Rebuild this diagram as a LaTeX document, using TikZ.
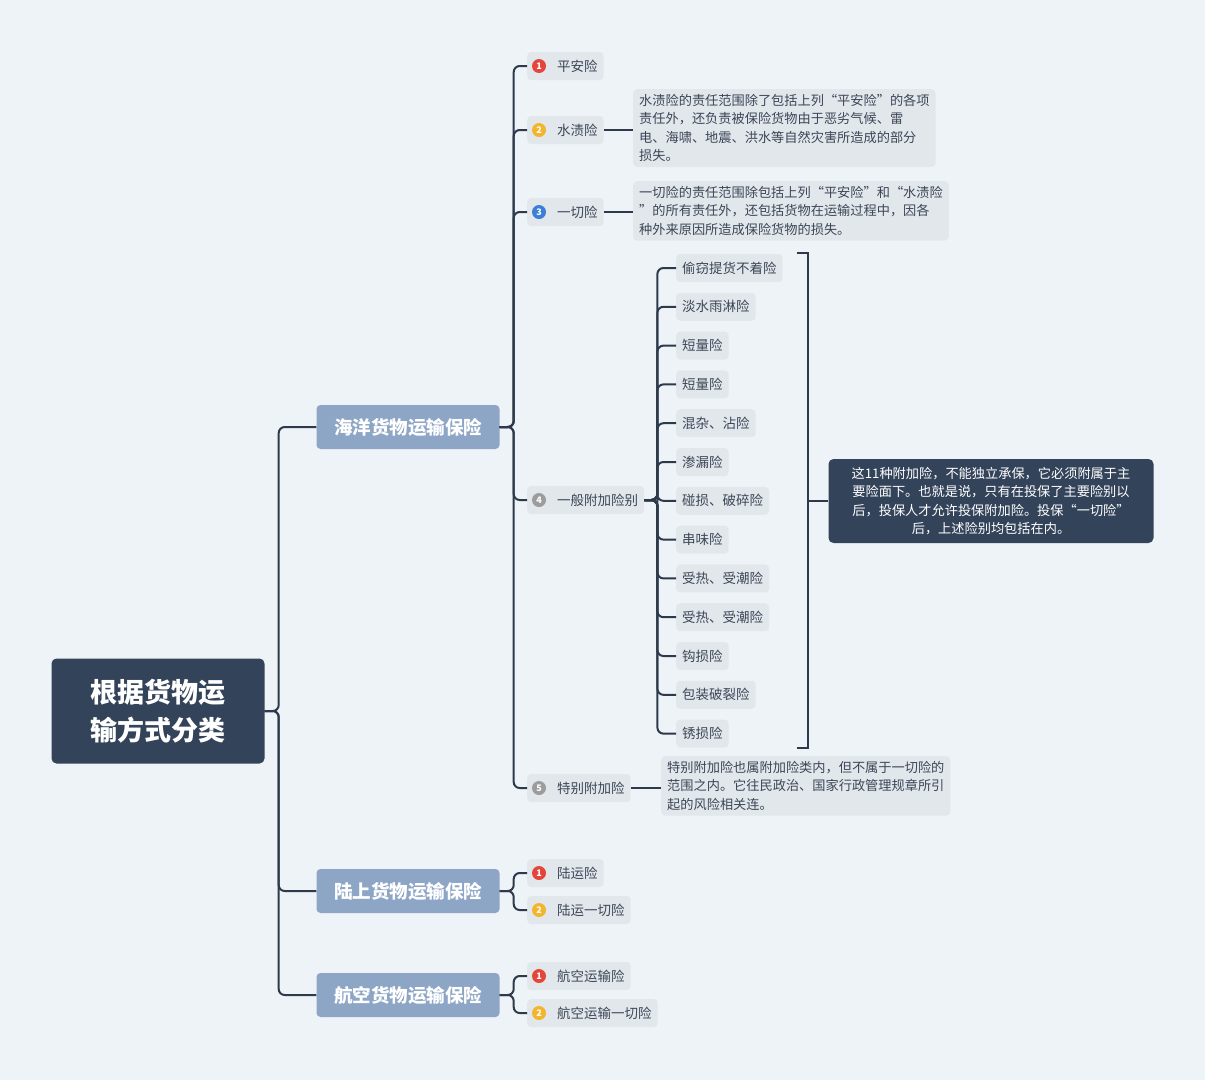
\documentclass[tikz,border=0pt]{standalone}
\usepackage{fontspec}
\setmainfont{Noto Sans CJK SC}
\begin{document}
\begin{tikzpicture}[x=1pt,y=-1pt,
  conn/.style={draw=linec,line width=2pt,rounded corners=6pt},
  leaf/.style={fill=leafc,rounded corners=4pt,anchor=west,font=\fontsize{13.5}{16}\selectfont,text=textc,inner xsep=6pt,minimum height=28pt},
  desc/.style={fill=leafc,rounded corners=4pt,anchor=north west,font=\fontsize{13.2}{18.5}\selectfont,text=textc,align=left,inner xsep=6pt,inner ysep=5pt},
  lvl/.style={fill=lvlc,rounded corners=4pt,text=white,font=\fontsize{18.5}{22}\selectfont\bfseries,minimum width=183pt,minimum height=44pt},
  badge/.style={circle,inner sep=0pt,minimum size=14pt,text=white,font=\fontsize{9}{9}\selectfont\bfseries}]
\definecolor{bg}{HTML}{EDF3F7}
\definecolor{linec}{HTML}{2E3A4B}
\definecolor{leafc}{HTML}{E2E7EC}
\definecolor{textc}{HTML}{3C4656}
\definecolor{lvlc}{HTML}{8DA6C6}
\definecolor{rootc}{HTML}{33435A}
\definecolor{bred}{HTML}{E5463B}
\definecolor{byel}{HTML}{F3B52C}
\definecolor{bblu}{HTML}{3C7FD6}
\definecolor{bgry}{HTML}{9C9C9C}
\fill[bg] (0,0) rectangle (1205,1080);
\useasboundingbox (0,0) rectangle (1205,1080);
% root
\node[fill=rootc,rounded corners=5pt,text=white,align=left,font=\fontsize{27}{38}\selectfont\bfseries,minimum width=213pt,minimum height=105pt] (root) at (158,711) {根据货物运\\输方式分类};
\node[lvl] (sea) at (408,427) {海洋货物运输保险};
\node[lvl] (land) at (408,891) {陆上货物运输保险};
\node[lvl] (air) at (408,995) {航空货物运输保险};
\draw[conn] (root.east) -- ([xshift=14pt]root.east) |- (sea.west);
\draw[conn] (root.east) -- ([xshift=14pt]root.east) |- (land.west);
\draw[conn] (root.east) -- ([xshift=14pt]root.east) |- (air.west);
% sea children
\node[leaf] (s1) at (527,66) {\hspace{24pt}平安险};
\node[leaf] (s2) at (527,130) {\hspace{24pt}水渍险};
\node[leaf] (s3) at (527,212) {\hspace{24pt}一切险};
\node[leaf] (s4) at (527,500) {\hspace{24pt}一般附加险别};
\node[leaf] (s5) at (527,788) {\hspace{24pt}特别附加险};
\foreach \n in {s1,s2,s3,s4,s5}{\draw[conn] (sea.east) -- ([xshift=14pt]sea.east) |- (\n.west);}
\node[badge,fill=bred] at (539,66) {1};
\node[badge,fill=byel] at (539,130) {2};
\node[badge,fill=bblu] at (539,212) {3};
\node[badge,fill=bgry] at (539,500) {4};
\node[badge,fill=bgry] at (539,788) {5};
\node[desc] (d2) at (633,89) {水渍险的责任范围除了包括上列“平安险”的各项\\责任外，还负责被保险货物由于恶劣气候、雷\\电、海啸、地震、洪水等自然灾害所造成的部分\\损失。};
\node[desc] (d3) at (633,181) {一切险的责任范围除包括上列“平安险”和“水渍险\\”的所有责任外，还包括货物在运输过程中，因各\\种外来原因所造成保险货物的损失。};
\node[desc] (d5) at (661,756) {特别附加险也属附加险类内，但不属于一切险的\\范围之内。它往民政治、国家行政管理规章所引\\起的风险相关连。};
\draw[conn] (s2.east) -- (s2.east -| d2.west);
\draw[conn] (s3.east) -- (s3.east -| d3.west);
\draw[conn] (s5.east) -- (s5.east -| d5.west);
% sublist
\foreach \t [count=\i] in {偷窃提货不着险,淡水雨淋险,短量险,短量险,混杂、沾险,渗漏险,碰损、破碎险,串味险,受热、受潮险,受热、受潮险,钩损险,包装破裂险,锈损险}{
  \node[leaf] (g\i) at (676,{268+38.8*(\i-1)}) {\t};
  \draw[conn] (s4.east) -- ([xshift=13pt]s4.east) |- (g\i.west);
}
\coordinate (bt) at (797,253);
\coordinate (bb) at (797,748);
\draw[draw=linec,line width=2pt] (bt) -- ++(11,0) -- (808,748) -- (bb);
\node[fill=rootc,rounded corners=5pt,text=white,align=center,font=\fontsize{13.2}{18.5}\selectfont,minimum width=325pt,minimum height=84pt] (note) at (991,501) {这11种附加险，不能独立承保，它必须附属于主\\要险面下。也就是说，只有在投保了主要险别以\\后，投保人才允许投保附加险。投保“一切险”\\后，上述险别均包括在内。};
\draw[draw=linec,line width=2pt] (808,501) -- (note.west);
% land
\node[leaf] (l1) at (527,873) {\hspace{24pt}陆运险};
\node[leaf] (l2) at (527,910) {\hspace{24pt}陆运一切险};
\foreach \n in {l1,l2}{\draw[conn] (land.east) -- ([xshift=14pt]land.east) |- (\n.west);}
\node[badge,fill=bred] at (539,873) {1};
\node[badge,fill=byel] at (539,910) {2};
% air
\node[leaf] (a1) at (527,976) {\hspace{24pt}航空运输险};
\node[leaf] (a2) at (527,1013) {\hspace{24pt}航空运输一切险};
\foreach \n in {a1,a2}{\draw[conn] (air.east) -- ([xshift=14pt]air.east) |- (\n.west);}
\node[badge,fill=bred] at (539,976) {1};
\node[badge,fill=byel] at (539,1013) {2};
\end{tikzpicture}
\end{document}
